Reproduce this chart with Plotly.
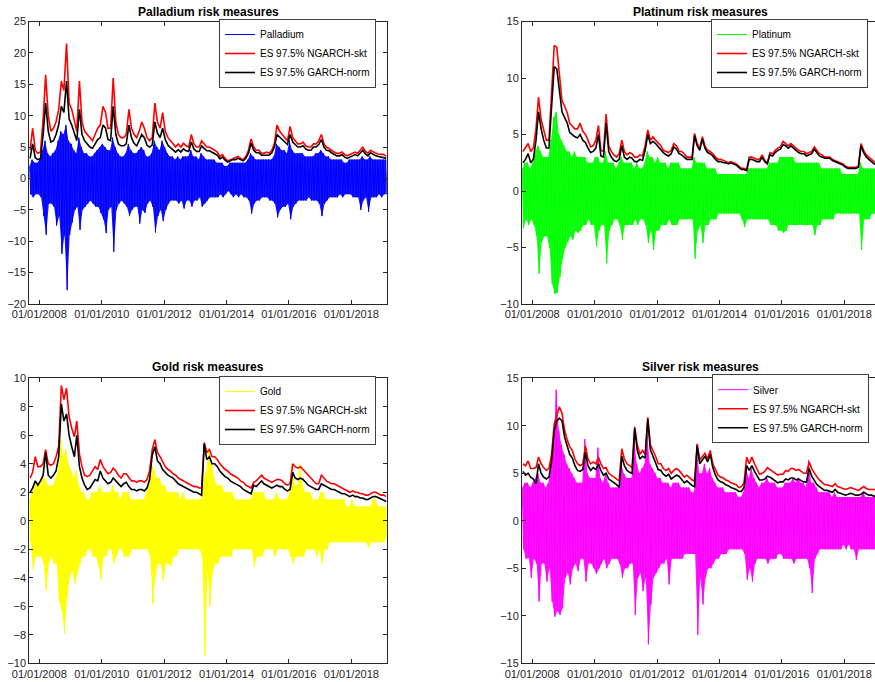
import plotly.graph_objects as go
import pandas as pd

# ---------------- data (monthly readings, Sep 2007 .. Feb 2019) ----------------
metals = ["Palladium", "Platinum", "Gold", "Silver"]
metal_colors = ["#0000FF", "#00FF00", "#FFFF00", "#FF00FF"]
metal_fill = ["rgba(0,0,255,0.9)", "rgba(0,255,0,0.9)", "rgba(255,255,0,0.95)", "rgba(255,0,255,0.9)"]
es_skt_name = "ES 97.5% NGARCH-skt"
es_norm_name = "ES 97.5% GARCH-norm"
x_tick_vals = ["2008-01-01", "2010-01-01", "2012-01-01", "2014-01-01", "2016-01-01", "2018-01-01"]
x_tick_text = ["01/01/2008", "01/01/2010", "01/01/2012", "01/01/2014", "01/01/2016", "01/01/2018"]
y_ranges = [[-20, 25], [-10, 15], [-10, 10], [-15, 15]]
y_dticks = [5, 5, 2, 5]

# Palladium
pd_hi = [2.0, 3.0, 2.5, 2.5,
         3.0, 4.5, 6.0, 4.0, 3.5, 4.0, 4.5, 6.0, 7.5, 7.0, 8.5, 6.0,
         5.5, 4.5, 4.0, 6.5, 5.0, 4.0, 4.0, 3.5, 3.5, 4.0, 4.5, 5.0,
         5.5, 5.0, 4.5, 4.5, 6.5, 5.0, 4.0, 3.5, 3.5, 4.0, 5.5, 4.5,
         4.0, 4.0, 4.5, 5.0, 4.5, 3.5, 3.5, 4.0, 6.0, 5.0, 4.5, 6.0,
         5.0, 4.0, 3.5, 3.5, 3.0, 3.5, 3.0, 3.5, 3.5, 3.5, 4.5, 3.5,
         3.5, 3.0, 4.0, 3.5, 3.0, 3.0, 3.0, 3.0, 2.5, 2.5, 2.5, 2.0,
         2.0, 2.5, 2.5, 2.5, 2.5, 2.5, 2.5, 2.5, 3.0, 4.0, 3.5, 3.0,
         3.0, 3.0, 3.0, 3.0, 3.0, 3.0, 3.5, 5.5, 5.0, 4.5, 4.5, 4.0,
         6.0, 4.5, 4.0, 4.0, 4.0, 4.0, 3.5, 3.5, 3.5, 3.5, 4.0, 4.0,
         4.5, 4.0, 3.5, 3.5, 3.0, 3.0, 3.0, 3.0, 3.0, 2.5, 2.5, 3.0,
         3.0, 3.0, 3.0, 3.0, 3.5, 3.0, 3.0, 3.5, 3.0, 3.0, 3.0, 3.0,
         3.0, 3.0]
pd_lo = [-2.5, -3.0, -2.5, -2.5,
         -3.0, -6.0, -9.0, -4.0, -4.0, -4.5, -7.5, -6.0, -12.0, -9.0, -17.8, -9.0,
         -7.0, -5.0, -4.5, -8.2, -5.0, -4.5, -4.0, -3.5, -4.0, -4.5, -4.5, -5.5,
         -6.5, -8.7, -5.0, -4.5, -11.7, -5.0, -4.0, -3.5, -4.0, -4.5, -6.0, -5.0,
         -4.5, -4.5, -7.2, -5.0, -5.5, -4.0, -3.5, -4.5, -8.6, -6.0, -5.0, -6.8,
         -5.0, -4.0, -3.5, -3.5, -3.5, -4.0, -3.5, -4.8, -3.5, -3.5, -4.5, -3.5,
         -3.5, -3.0, -4.5, -4.0, -3.5, -3.0, -3.0, -3.0, -3.0, -2.5, -3.0, -2.5,
         -2.0, -2.5, -3.0, -2.5, -3.0, -2.5, -3.0, -3.0, -3.5, -5.6, -4.0, -3.5,
         -3.5, -3.0, -3.0, -3.0, -3.5, -3.5, -4.0, -6.2, -5.0, -4.5, -4.5, -4.0,
         -6.5, -4.5, -4.0, -3.5, -3.5, -3.5, -3.5, -3.0, -3.5, -3.5, -3.5, -4.0,
         -6.0, -4.0, -3.5, -3.0, -3.0, -3.0, -3.0, -2.5, -3.0, -2.5, -2.5, -2.5,
         -3.0, -3.0, -3.0, -5.0, -3.5, -3.0, -5.3, -3.0, -3.0, -3.0, -2.5, -3.0,
         -2.5, -2.5]
pd_es_skt = [4.5, 8.0, 4.5, 4.0,
             4.2, 9.5, 16.5, 10.0, 7.5, 8.0, 9.0, 11.0, 15.5, 14.0, 21.5, 12.0,
             11.0, 9.0, 7.5, 15.5, 9.0, 7.5, 7.0, 6.5, 6.0, 7.0, 8.0, 8.5,
             11.5, 10.5, 8.0, 8.0, 16.0, 9.0, 7.0, 6.5, 6.5, 7.0, 11.0, 8.0,
             7.0, 6.5, 7.5, 9.0, 8.0, 6.5, 6.0, 6.5, 12.0, 9.0, 8.0, 10.5,
             7.5, 6.5, 6.0, 5.5, 5.0, 5.5, 5.0, 5.6, 5.2, 5.0, 7.0, 5.5,
             5.0, 5.0, 6.0, 5.5, 5.0, 5.0, 4.8, 4.5, 4.2, 3.5, 3.8, 3.2,
             2.8, 3.0, 3.2, 3.3, 3.5, 3.2, 3.0, 3.5, 4.5, 6.3, 5.0, 4.5,
             4.5, 4.0, 4.0, 4.2, 4.0, 4.5, 5.5, 8.5, 7.5, 7.0, 6.5, 6.0,
             8.3, 6.5, 6.0, 5.5, 5.5, 5.8, 5.2, 5.0, 5.0, 5.5, 5.5, 6.0,
             7.0, 5.5, 5.0, 4.8, 4.5, 4.2, 4.0, 4.0, 4.2, 3.8, 3.6, 3.8,
             4.0, 4.2, 4.0, 4.5, 5.0, 4.3, 4.0, 4.5, 4.2, 4.0, 3.9, 3.8,
             3.8, 3.5]
pd_es_norm = [3.2, 5.5, 3.3, 3.0,
              3.2, 7.0, 12.0, 7.5, 5.8, 6.0, 7.0, 8.5, 11.5, 10.5, 15.5, 9.5,
              8.5, 7.0, 6.0, 11.0, 7.0, 6.0, 5.5, 5.0, 4.8, 5.5, 6.2, 6.5,
              8.5, 8.0, 6.2, 6.0, 11.5, 7.0, 5.5, 5.2, 5.2, 5.5, 8.5, 6.5,
              5.6, 5.2, 6.0, 7.0, 6.5, 5.3, 5.0, 5.3, 9.0, 7.2, 6.5, 8.0,
              6.2, 5.3, 4.9, 4.5, 4.2, 4.6, 4.2, 4.7, 4.4, 4.3, 5.8, 4.7,
              4.3, 4.3, 5.2, 4.8, 4.4, 4.4, 4.2, 4.0, 3.7, 3.1, 3.4, 2.9,
              2.6, 2.8, 3.0, 3.0, 3.2, 3.0, 2.8, 3.2, 4.0, 5.6, 4.5, 4.1,
              4.1, 3.7, 3.7, 3.8, 3.7, 4.1, 5.0, 7.0, 6.5, 6.2, 5.8, 5.4,
              7.0, 5.8, 5.4, 5.0, 5.0, 5.2, 4.7, 4.5, 4.5, 5.0, 5.0, 5.4,
              6.2, 5.0, 4.5, 4.4, 4.1, 3.8, 3.6, 3.6, 3.8, 3.4, 3.2, 3.4,
              3.6, 3.8, 3.6, 4.1, 4.5, 3.9, 3.6, 4.1, 3.8, 3.6, 3.5, 3.4,
              3.4, 3.2]

# Platinum
pt_hi = [2.0, 2.5, 2.5, 2.0,
         2.5, 3.5, 4.0, 3.5, 3.0, 3.0, 3.0, 4.5, 6.5, 7.0, 5.0, 4.5,
         4.0, 3.5, 3.5, 3.0, 3.5, 3.0, 3.0, 3.0, 3.0, 2.5, 2.5, 2.5,
         3.0, 3.0, 2.5, 2.5, 3.5, 2.5, 2.5, 2.5, 2.0, 2.5, 3.0, 2.5,
         2.5, 2.5, 2.5, 2.0, 2.5, 2.0, 2.0, 2.5, 3.5, 3.0, 3.0, 2.5,
         3.0, 2.5, 2.5, 2.5, 2.0, 2.5, 2.5, 2.5, 2.5, 2.0, 2.0, 2.0,
         2.0, 2.0, 3.0, 2.5, 2.5, 2.5, 2.5, 2.0, 2.0, 2.0, 2.0, 1.5,
         1.5, 1.5, 1.5, 1.5, 1.5, 1.5, 1.5, 1.5, 1.5, 1.5, 1.5, 2.0,
         2.0, 2.0, 2.0, 2.0, 2.0, 2.0, 2.0, 2.5, 2.5, 2.5, 2.5, 3.0,
         3.0, 3.0, 3.0, 3.0, 3.0, 2.5, 2.5, 2.5, 2.5, 2.5, 2.5, 2.5,
         2.5, 2.5, 2.5, 2.0, 2.0, 2.0, 2.0, 2.0, 2.0, 2.0, 2.0, 1.5,
         1.5, 1.5, 1.5, 1.5, 1.5, 1.5, 2.5, 2.0, 2.0, 2.0, 2.0, 2.0,
         2.0, 2.0]
pt_lo = [-3.3, -2.5, -3.0, -2.5,
         -3.0, -4.0, -7.3, -4.5, -4.0, -4.0, -5.0, -8.2, -9.1, -9.0, -7.6, -6.0,
         -5.0, -4.5, -4.0, -4.3, -3.5, -3.7, -3.5, -3.0, -3.0, -2.5, -3.0, -3.0,
         -4.9, -3.5, -3.0, -3.0, -6.4, -3.5, -3.0, -2.5, -2.5, -3.0, -4.3, -3.0,
         -3.0, -3.0, -3.0, -2.5, -3.0, -2.5, -2.5, -3.0, -4.6, -3.5, -5.2, -3.5,
         -3.5, -3.0, -3.0, -3.0, -2.5, -3.0, -3.0, -3.0, -2.5, -2.5, -2.5, -2.5,
         -2.5, -2.5, -6.0, -3.5, -3.0, -4.6, -3.0, -3.0, -2.5, -2.5, -2.5, -2.0,
         -2.0, -2.0, -2.0, -2.0, -2.0, -2.0, -2.0, -2.0, -2.5, -3.2, -2.5, -2.5,
         -2.5, -2.5, -2.5, -2.5, -2.5, -2.5, -2.5, -3.0, -3.0, -3.0, -3.5, -3.5,
         -3.7, -3.5, -3.0, -3.0, -3.0, -3.0, -3.0, -3.0, -3.0, -3.0, -3.0, -3.0,
         -3.9, -3.0, -3.0, -2.5, -2.5, -2.5, -2.5, -2.5, -2.0, -2.0, -2.0, -2.0,
         -2.0, -2.0, -2.0, -2.0, -2.0, -2.0, -5.2, -2.5, -2.5, -2.5, -2.0, -2.0,
         -2.0, -2.0]
pt_es_skt = [3.5, 3.8, 4.2, 3.5,
             3.8, 5.5, 8.3, 6.3, 5.5, 4.5, 4.5, 8.6, 12.9, 12.7, 10.4, 8.0,
             7.5, 6.9, 6.0, 5.7, 5.5, 5.5, 6.0, 5.3, 5.0, 4.5, 3.9, 4.0,
             4.5, 5.8, 3.6, 3.5, 6.8, 4.0, 3.5, 3.2, 3.0, 3.3, 4.5, 3.5,
             3.2, 3.4, 3.3, 3.0, 3.0, 3.2, 3.1, 4.0, 5.4, 4.5, 4.8, 4.5,
             4.2, 4.0, 3.6, 3.5, 3.4, 3.6, 4.2, 4.0, 3.5, 3.5, 3.3, 3.0,
             3.0, 3.0, 5.1, 4.2, 3.8, 4.8, 4.0, 3.6, 3.5, 3.3, 3.0, 2.8,
             2.8, 2.7, 2.6, 2.5, 2.6, 2.5, 2.4, 2.2, 2.0, 2.0, 1.9, 3.0,
             3.0, 2.9, 2.8, 2.8, 3.2, 2.7, 2.5, 3.4, 3.3, 3.6, 3.8, 3.9,
             4.4, 4.2, 4.0, 4.2, 4.0, 3.8, 3.6, 3.5, 3.5, 3.3, 3.4, 3.5,
             3.9, 3.6, 3.3, 3.2, 3.0, 3.0, 3.0, 2.8, 2.7, 2.6, 2.5, 2.4,
             2.2, 2.1, 2.1, 2.1, 2.1, 2.2, 4.2, 3.6, 3.2, 3.0, 2.8, 2.6,
             2.5, 2.4]
pt_es_norm = [2.5, 2.8, 3.3, 2.5,
              2.8, 4.5, 7.0, 5.5, 4.5, 3.8, 3.8, 7.5, 11.0, 10.8, 9.0, 7.0,
              6.5, 6.0, 5.2, 5.0, 4.8, 4.7, 5.0, 4.5, 4.3, 3.8, 3.4, 3.5,
              3.8, 5.0, 3.1, 3.0, 6.0, 3.5, 3.0, 2.7, 2.6, 2.8, 4.0, 3.0,
              2.8, 3.0, 2.9, 2.6, 2.6, 2.8, 2.7, 3.6, 5.0, 4.2, 4.4, 4.2,
              3.9, 3.7, 3.4, 3.2, 3.1, 3.3, 3.9, 3.7, 3.3, 3.2, 3.0, 2.8,
              2.8, 2.8, 4.9, 4.0, 3.6, 4.6, 3.8, 3.4, 3.3, 3.1, 2.8, 2.6,
              2.6, 2.5, 2.5, 2.4, 2.5, 2.4, 2.3, 2.1, 1.9, 1.9, 1.8, 2.8,
              2.8, 2.7, 2.6, 2.6, 3.0, 2.6, 2.4, 3.2, 3.1, 3.4, 3.6, 3.7,
              4.1, 4.0, 3.8, 4.0, 3.8, 3.6, 3.4, 3.3, 3.3, 3.1, 3.2, 3.3,
              3.7, 3.4, 3.1, 3.0, 2.9, 2.9, 2.9, 2.7, 2.6, 2.5, 2.4, 2.3,
              2.1, 2.0, 2.0, 2.0, 2.0, 2.1, 4.0, 3.4, 3.0, 2.8, 2.6, 2.4,
              2.3, 2.2]

# Gold
gd_hi = [1.5, 2.0, 2.8, 2.5,
         2.5, 3.0, 3.0, 2.5, 2.5, 2.5, 3.0, 3.5, 5.7, 4.5, 5.0, 4.0,
         3.5, 3.0, 3.5, 2.5, 2.0, 2.0, 1.5, 1.5, 2.0, 2.0, 2.0, 2.5,
         2.0, 2.0, 2.0, 2.0, 2.5, 2.0, 2.0, 1.5, 2.0, 2.0, 2.0, 1.5,
         1.5, 1.5, 1.5, 1.5, 1.5, 2.0, 2.5, 4.0, 3.5, 3.0, 3.0, 2.5,
         2.5, 2.0, 2.0, 2.0, 2.0, 2.0, 1.5, 2.0, 1.5, 1.5, 1.5, 1.5,
         1.5, 1.5, 1.5, 3.0, 3.5, 5.0, 4.0, 3.0, 2.5, 2.5, 2.5, 2.0,
         2.0, 2.0, 2.0, 1.5, 1.5, 1.5, 1.5, 1.5, 1.5, 1.5, 2.0, 2.0,
         2.0, 2.0, 2.0, 1.5, 1.5, 1.5, 1.5, 2.0, 1.5, 1.5, 1.5, 1.5,
         2.0, 4.0, 2.5, 2.5, 4.0, 2.5, 2.0, 2.0, 2.0, 1.5, 1.5, 1.5,
         2.0, 2.0, 1.5, 1.5, 1.5, 1.5, 1.5, 1.5, 1.5, 1.5, 1.0, 1.0,
         1.5, 1.0, 1.0, 1.0, 1.0, 1.0, 1.0, 1.0, 1.5, 1.5, 1.0, 1.0,
         1.0, 1.0]
gd_lo = [-1.5, -3.4, -2.5, -2.5,
         -2.5, -3.0, -4.9, -3.0, -2.5, -3.0, -3.0, -5.6, -6.3, -7.9, -5.3, -4.0,
         -3.5, -4.4, -3.7, -3.0, -2.5, -2.5, -2.0, -2.0, -2.5, -2.5, -3.0, -4.1,
         -2.5, -2.5, -2.0, -2.0, -3.0, -2.5, -2.0, -2.0, -2.5, -2.5, -2.5, -2.0,
         -2.0, -2.0, -2.0, -2.0, -2.0, -2.0, -2.5, -5.8, -3.9, -3.0, -3.0, -4.2,
         -3.0, -3.0, -3.2, -2.5, -2.5, -2.0, -2.0, -2.0, -2.0, -2.0, -2.0, -2.0,
         -2.0, -2.0, -2.5, -9.5, -3.5, -6.0, -3.5, -3.0, -3.0, -2.5, -2.5, -2.5,
         -2.5, -2.5, -2.0, -2.0, -2.0, -2.0, -2.0, -2.0, -2.0, -2.0, -3.2, -2.5,
         -2.5, -2.5, -2.0, -2.0, -2.0, -2.0, -2.5, -2.0, -2.0, -2.0, -2.0, -2.0,
         -2.5, -3.0, -2.5, -2.5, -2.5, -2.5, -2.0, -2.0, -2.0, -2.0, -2.5, -2.0,
         -3.0, -2.0, -2.0, -1.5, -1.5, -1.5, -1.5, -1.5, -1.5, -1.5, -1.5, -1.5,
         -1.5, -1.5, -1.5, -1.5, -1.5, -1.5, -1.9, -1.5, -1.5, -1.5, -1.5, -1.5,
         -1.5, -1.0]
gd_es_skt = [3.0, 3.4, 4.5, 3.8,
             3.8, 4.0, 5.0, 4.0, 3.9, 4.0, 4.5, 5.2, 9.5, 8.5, 9.3, 7.3,
             6.5, 5.9, 7.0, 4.7, 3.8, 3.2, 3.1, 3.2, 3.5, 3.8, 3.6, 4.3,
             3.8, 3.5, 3.3, 3.4, 3.7, 3.5, 3.2, 3.0, 3.3, 3.3, 3.0, 2.8,
             2.8, 2.7, 2.8, 2.8, 2.7, 2.9, 3.5, 5.0, 5.7, 4.8, 4.5, 4.2,
             3.8, 3.6, 3.5, 3.3, 3.2, 3.0, 2.9, 2.8, 2.7, 2.6, 2.5, 2.4,
             2.4, 2.3, 2.3, 5.5, 4.8, 5.0, 4.5, 4.5, 4.3, 4.0, 3.8, 3.6,
             3.5, 3.3, 3.2, 3.1, 3.0, 2.8, 2.7, 2.5, 2.4, 2.3, 2.7, 2.8,
             3.0, 3.2, 3.0, 2.9, 2.8, 2.7, 2.8, 2.9, 2.9, 2.8, 2.6, 2.5,
             2.6, 4.0, 3.8, 3.7, 3.8, 3.6, 3.4, 3.2, 3.0, 2.8, 2.6, 2.6,
             3.2, 3.0, 2.8, 2.7, 2.6, 2.6, 2.5, 2.4, 2.3, 2.2, 2.1, 2.0,
             2.1, 2.0, 2.0, 1.9, 1.9, 1.8, 1.8, 1.9, 2.0, 2.0, 1.9, 1.8,
             1.8, 1.7]
gd_es_norm = [2.0, 2.3, 2.8, 2.5,
              2.8, 3.2, 4.8, 3.2, 3.0, 3.2, 3.5, 4.5, 8.2, 7.0, 7.5, 6.0,
              5.2, 4.5, 6.0, 3.8, 3.0, 2.5, 2.2, 2.3, 2.6, 2.9, 2.8, 3.5,
              3.0, 2.8, 2.6, 2.7, 3.0, 2.8, 2.6, 2.4, 2.6, 2.7, 2.4, 2.2,
              2.2, 2.1, 2.2, 2.2, 2.1, 2.3, 2.9, 4.6, 5.2, 4.2, 4.0, 3.6,
              3.4, 3.2, 3.1, 3.0, 2.8, 2.6, 2.5, 2.4, 2.3, 2.2, 2.1, 2.0,
              2.0, 1.9, 1.8, 5.4, 4.3, 4.5, 4.0, 4.0, 3.8, 3.5, 3.3, 3.1,
              3.0, 2.8, 2.7, 2.6, 2.5, 2.4, 2.2, 2.1, 2.0, 1.9, 2.5, 2.4,
              2.6, 2.8, 2.6, 2.5, 2.4, 2.3, 2.4, 2.5, 2.4, 2.4, 2.2, 2.1,
              2.2, 3.4, 3.0, 2.9, 3.0, 2.9, 2.7, 2.5, 2.4, 2.3, 2.2, 2.2,
              2.6, 2.5, 2.4, 2.3, 2.2, 2.2, 2.1, 2.0, 1.9, 1.9, 1.8, 1.7,
              1.8, 1.7, 1.7, 1.6, 1.6, 1.5, 1.5, 1.6, 1.7, 1.7, 1.6, 1.5,
              1.4, 1.35]

# Silver
sv_hi = [3.5, 4.0, 4.0, 3.5,
         4.0, 4.5, 5.0, 4.0, 4.0, 3.5, 4.0, 6.0, 8.0, 13.8, 9.5, 8.0,
         7.0, 6.0, 5.5, 5.0, 4.5, 4.0, 4.0, 4.0, 8.6, 5.0, 4.5, 4.5,
         4.5, 7.7, 4.5, 4.0, 5.0, 4.0, 3.5, 3.5, 3.5, 3.5, 6.0, 5.0,
         4.5, 4.5, 4.5, 8.8, 6.0, 5.0, 5.5, 6.0, 9.0, 6.0, 5.5, 5.0,
         4.5, 4.5, 4.0, 4.0, 4.0, 3.5, 4.0, 4.0, 4.0, 3.5, 3.5, 3.5,
         3.5, 3.0, 3.0, 8.0, 5.0, 5.0, 6.0, 5.0, 5.5, 4.5, 4.0, 3.5,
         3.5, 3.5, 3.0, 3.0, 3.0, 3.0, 3.0, 2.5, 2.5, 3.0, 5.5, 4.5,
         5.5, 4.5, 4.0, 3.5, 4.0, 4.0, 4.5, 4.0, 4.0, 4.0, 3.5, 3.5,
         3.5, 4.0, 4.0, 4.0, 4.5, 4.0, 4.5, 4.0, 4.0, 3.5, 6.4, 4.0,
         4.0, 3.5, 3.0, 3.0, 3.0, 3.0, 3.0, 2.5, 3.0, 2.5, 2.5, 2.5,
         2.5, 2.5, 2.5, 2.5, 2.5, 2.5, 2.5, 3.0, 2.5, 2.5, 2.5, 2.5,
         2.5, 2.5]
sv_lo = [-3.0, -4.0, -3.9, -6.0,
         -4.0, -4.5, -8.5, -4.5, -4.5, -6.4, -5.0, -8.5, -10.1, -9.5, -9.9, -9.2,
         -6.0, -5.5, -6.7, -5.0, -4.5, -5.3, -4.0, -4.0, -6.4, -4.5, -4.5, -5.0,
         -5.6, -5.0, -4.5, -4.0, -5.0, -4.5, -4.0, -4.0, -4.0, -4.5, -6.0, -5.0,
         -5.0, -4.5, -4.5, -9.9, -6.0, -5.5, -7.4, -6.0, -13.0, -8.8, -6.0, -5.5,
         -5.0, -4.5, -4.5, -4.0, -6.7, -4.0, -4.0, -4.0, -4.0, -4.0, -3.5, -3.5,
         -3.5, -3.5, -3.5, -12.0, -6.0, -8.8, -6.0, -5.0, -5.0, -4.5, -4.0, -4.0,
         -3.5, -3.5, -3.5, -3.0, -3.0, -3.0, -3.0, -3.0, -3.0, -3.5, -6.2, -5.0,
         -6.4, -4.5, -4.0, -4.0, -4.0, -4.0, -4.5, -4.0, -4.0, -4.0, -3.5, -3.5,
         -4.0, -4.0, -4.0, -4.0, -4.5, -4.0, -4.0, -4.0, -4.0, -4.0, -5.0, -7.6,
         -4.0, -3.5, -3.0, -3.0, -3.0, -3.0, -3.0, -3.0, -3.0, -3.0, -3.0, -2.5,
         -3.0, -2.5, -3.0, -3.0, -4.1, -3.0, -3.0, -3.0, -3.0, -3.0, -3.0, -3.0,
         -3.0, -3.0]
sv_es_skt = [6.0, 5.8, 6.3, 5.5,
             5.5, 5.6, 6.7, 6.0, 5.6, 5.3, 5.5, 7.0, 10.2, 11.2, 12.0, 11.3,
             9.5, 8.5, 7.8, 7.4, 6.5, 6.0, 5.8, 6.0, 7.9, 6.5, 6.0, 6.2,
             6.0, 6.7, 6.0, 5.5, 5.6, 5.0, 4.8, 4.6, 4.4, 4.2, 7.6, 6.5,
             6.0, 5.8, 5.6, 9.9, 8.0, 7.0, 7.4, 7.0, 10.9, 8.0, 7.4, 6.8,
             6.0, 6.0, 5.5, 5.3, 5.5, 5.0, 5.3, 5.5, 5.3, 5.0, 4.6, 4.8,
             4.5, 4.3, 4.2, 8.1, 6.4, 6.8, 7.1, 6.5, 7.4, 6.0, 5.3, 4.8,
             4.6, 4.5, 4.3, 4.2, 4.0, 3.9, 3.8, 3.5, 3.6, 4.0, 6.7, 6.0,
             6.7, 6.0, 5.5, 4.9, 5.0, 5.2, 5.6, 5.4, 5.2, 5.0, 4.8, 4.9,
             4.9, 5.3, 5.2, 5.5, 5.5, 5.3, 5.4, 5.2, 5.0, 5.0, 6.2, 5.5,
             5.0, 4.6, 4.3, 4.0, 3.8, 3.8, 3.7, 3.6, 3.9, 3.6, 3.5, 3.4,
             3.3, 3.4, 3.5, 3.4, 3.3, 3.2, 3.4, 3.6, 3.4, 3.3, 3.3, 3.3,
             3.3, 3.3]
sv_es_norm = [5.2, 4.8, 5.0, 4.6,
              4.4, 3.9, 6.0, 5.0, 4.6, 4.4, 4.6, 6.2, 9.5, 10.5, 10.8, 10.5,
              8.8, 7.8, 7.0, 6.6, 5.8, 5.3, 5.2, 5.4, 7.2, 5.8, 5.3, 5.6,
              5.4, 6.0, 5.3, 4.8, 5.0, 4.4, 4.2, 4.0, 3.8, 3.5, 6.8, 5.8,
              5.3, 5.1, 5.0, 9.7, 7.4, 6.5, 6.8, 6.6, 10.7, 7.5, 6.8, 6.2,
              5.4, 5.3, 4.9, 4.7, 4.9, 4.4, 4.6, 4.8, 4.7, 4.4, 4.0, 4.2,
              3.9, 3.7, 3.6, 7.9, 6.0, 6.4, 6.8, 6.2, 7.0, 5.6, 4.8, 4.3,
              4.1, 4.0, 3.8, 3.7, 3.5, 3.4, 3.3, 3.1, 3.1, 3.5, 5.8, 5.3,
              5.8, 5.2, 4.7, 4.3, 4.3, 4.4, 4.7, 4.6, 4.4, 4.2, 4.0, 4.1,
              4.1, 4.4, 4.3, 4.5, 4.5, 4.3, 4.4, 4.2, 4.1, 4.1, 5.5, 4.7,
              4.2, 3.8, 3.6, 3.4, 3.2, 3.2, 3.1, 3.0, 3.3, 3.0, 2.9, 2.8,
              2.7, 2.8, 2.9, 2.8, 2.7, 2.7, 2.8, 3.0, 2.8, 2.7, 2.7, 2.6,
              2.6, 2.6]

returns_hi = [pd_hi, pt_hi, gd_hi, sv_hi]
returns_lo = [pd_lo, pt_lo, gd_lo, sv_lo]
es_skt = [pd_es_skt, pt_es_skt, gd_es_skt, sv_es_skt]
es_norm = [pd_es_norm, pt_es_norm, gd_es_norm, sv_es_norm]

n_months = 138
for arr in returns_hi + returns_lo + es_skt + es_norm:
    assert len(arr) == n_months, len(arr)

months = pd.date_range("2007-09-01", periods=n_months, freq="MS")
es_dates = list(months + pd.Timedelta(days=14))
hi_dates = list(months + pd.Timedelta(days=7))
lo_dates = list(months + pd.Timedelta(days=21))
ret_dates = [d for pair in zip(hi_dates, lo_dates) for d in pair]

# ---------------- layout geometry ----------------
W, H = 875, 682
x_domains = [[29.3 / W, 386.7 / W], [522 / W, 1.0], [29.3 / W, 386.7 / W], [522 / W, 1.0]]
y_domains = [[1 - 304 / H, 1 - 21.5 / H], [1 - 304 / H, 1 - 21.5 / H],
             [1 - 663.3 / H, 1 - 378.3 / H], [1 - 663.3 / H, 1 - 378.3 / H]]
x_ranges = [["2007-09-06", "2019-02-19"], ["2007-09-04", "2018-12-26"],
            ["2007-09-06", "2019-02-19"], ["2007-09-04", "2018-12-26"]]
title_y = [1 - 11.7 / H, 1 - 11.7 / H, 1 - 366.7 / H, 1 - 366.7 / H]
title_x = [208 / W, 700.5 / W, 208 / W, 700.5 / W]
legend_xy = [(376 / W, 1 - 53.5 / H), (868 / W, 1 - 53.5 / H),
             (376 / W, 1 - 410.5 / H), (869 / W, 1 - 408.7 / H)]

FONT = "Arial, Liberation Sans, Helvetica, sans-serif"
AX = "#262626"

fig = go.Figure()
layout = dict(
    width=W, height=H, margin=dict(l=0, r=0, t=0, b=0, autoexpand=False),
    paper_bgcolor="white", plot_bgcolor="white",
    font=dict(family=FONT, size=11, color=AX),
    showlegend=True, annotations=[],
)

for i in range(4):
    k = "" if i == 0 else str(i + 1)
    leg = "legend" if i == 0 else "legend" + str(i + 1)
    # dense band of daily returns (area between monthly extremes)
    fig.add_trace(go.Scatter(x=hi_dates + lo_dates[::-1], y=returns_hi[i] + returns_lo[i][::-1],
                             mode="lines", fill="toself", fillcolor=metal_fill[i],
                             line=dict(width=0, color=metal_colors[i]), showlegend=False,
                             hoverinfo="skip", xaxis="x" + k, yaxis="y" + k, legend=leg))
    ret_y = [v for pair in zip(returns_hi[i], returns_lo[i]) for v in pair]
    fig.add_trace(go.Scatter(x=ret_dates, y=ret_y, mode="lines", name=metals[i],
                             line=dict(color=metal_colors[i], width=1),
                             xaxis="x" + k, yaxis="y" + k, legend=leg))
    fig.add_trace(go.Scatter(x=es_dates, y=es_skt[i], mode="lines", name=es_skt_name,
                             line=dict(color="#FF0000", width=1.6),
                             xaxis="x" + k, yaxis="y" + k, legend=leg))
    fig.add_trace(go.Scatter(x=es_dates, y=es_norm[i], mode="lines", name=es_norm_name,
                             line=dict(color="#000000", width=1.6),
                             xaxis="x" + k, yaxis="y" + k, legend=leg))
    right = i in (1, 3)
    layout["xaxis" + k] = dict(
        domain=x_domains[i], anchor="y" + k, type="date", range=x_ranges[i],
        tickmode="array", tickvals=x_tick_vals, ticktext=x_tick_text,
        ticks="inside", ticklen=4, tickcolor=AX, showline=True, linecolor=AX,
        linewidth=1, mirror="ticks", showgrid=False, zeroline=False, automargin=False,
        tickfont=dict(family=FONT, size=11, color=AX),
    )
    layout["yaxis" + k] = dict(
        domain=y_domains[i], anchor="x" + k, range=y_ranges[i], dtick=y_dticks[i],
        ticks="inside", ticklen=4, tickcolor=AX, showline=True, linecolor=AX,
        linewidth=1, mirror=False if right else "ticks", showgrid=False, zeroline=False,
        automargin=False, tickfont=dict(family=FONT, size=11, color=AX),
    )
    layout[leg] = dict(
        x=legend_xy[i][0], y=legend_xy[i][1], xanchor="right", yanchor="middle",
        xref="paper", yref="paper",
        bgcolor="white", bordercolor="#404040", borderwidth=1,
        font=dict(family=FONT, size=10, color="#000000"),
        tracegroupgap=0,
    )
    layout["annotations"].append(dict(
        text="<b>%s risk measures</b>" % metals[i], xref="paper", yref="paper",
        x=title_x[i], y=title_y[i], xanchor="center", yanchor="middle", showarrow=False,
        font=dict(family=FONT, size=12, color="#000000"),
    ))

fig.update_layout(**layout)
fig.write_html("out.html")
